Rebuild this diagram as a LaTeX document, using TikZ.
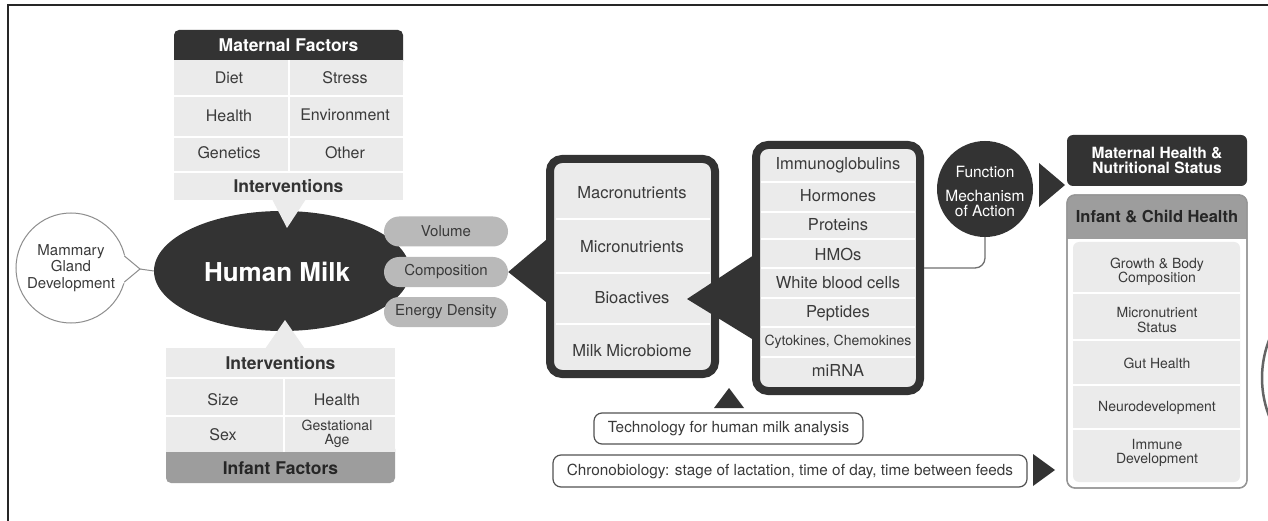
\documentclass[tikz,border=0pt]{standalone}
\usepackage{fontspec}
\setmainfont{TeX Gyre Heros}
\usetikzlibrary{shapes.geometric,calc}
\definecolor{ink}{HTML}{333333}
\definecolor{cellbg}{HTML}{EBEBEB}
\definecolor{pillbg}{HTML}{B9B9B9}
\definecolor{midgrey}{HTML}{9D9D9D}
\definecolor{txt}{HTML}{3A3A3A}
\definecolor{edge}{HTML}{707070}
\tikzset{
  cell/.style={text=txt, inner sep=0pt, font=\fontsize{16}{18}\selectfont},
  cellsm/.style={text=txt, inner sep=0pt, align=center, font=\fontsize{14}{14.5}\selectfont},
  boldhd/.style={text=#1, inner sep=0pt, font=\fontsize{17.5}{20}\selectfont\bfseries},
  pill/.style={fill=pillbg, rounded corners=15pt, minimum width=124pt, minimum height=30pt,
    inner sep=0pt, text=txt, font=\fontsize{15}{17}\selectfont},
  stack/.style={draw=ink, line width=8pt, fill=cellbg, rounded corners=12pt, inner sep=0pt},
  stacktext/.style={text=txt, inner sep=0pt, font=\fontsize{16.5}{19}\selectfont},
  sep/.style={white, line width=1.6pt},
  tag/.style={draw=ink!85, line width=1.2pt, rounded corners=8pt, fill=white, inner sep=0pt,
    text=txt, font=\fontsize{15.3}{17}\selectfont},
  wedge/.style={fill=ink},
}
\begin{document}
\begin{tikzpicture}[x=1pt,y=-1pt]
\useasboundingbox (0,0) rectangle (1268,521);
\fill[white] (0,0) rectangle (1268,521);
% outer frame
\draw[line width=2pt, black!85] (8,521) -- (8,5) -- (1268,5);

% ---------- central ellipse ----------
\node[ellipse, fill=ink, minimum width=256pt, minimum height=120pt, inner sep=0pt] (milk) at (282,271) {};
\node[text=white, inner sep=0pt, font=\fontsize{26}{30}\selectfont\bfseries] (milklbl) at (277,272) {Human Milk};

% ---------- maternal factors ----------
\fill[ink, rounded corners=5pt] (174,30) rectangle (403,66);
\fill[cellbg] (174,60) rectangle (403,200);
\draw[sep] (174,96) -- (403,96);
\draw[sep] (174,137) -- (403,137);
\draw[sep] (174,172) -- (403,172);
\draw[sep] (289,60) -- (289,172);
\fill[cellbg] (272,199) -- (306,199) -- (287,228) -- cycle;
\node[boldhd=white] (matf) at (288.5,45) {Maternal Factors};
\node[cell] (diet) at (229,78) {Diet};
\node[cell] (stress) at (345,78) {Stress};
\node[cell] (mhealth) at (229,116) {Health};
\node[cell] (env) at (345,115) {Environment};
\node[cell] (gen) at (229,153) {Genetics};
\node[cell] (other) at (345,153) {Other};
\node[boldhd=ink] (mint) at (288.5,186) {Interventions};

% ---------- infant factors ----------
\fill[midgrey, rounded corners=5pt] (166,444) rectangle (395,483);
\fill[cellbg] (166,348) rectangle (395,452);
\draw[sep] (166,378) -- (395,378);
\draw[sep] (166,416) -- (395,416);
\draw[sep] (284,378) -- (284,452);
\fill[cellbg] (265,349) -- (305,349) -- (285,320) -- cycle;
\node[boldhd=ink] (iint) at (280.5,363) {Interventions};
\node[cell] (size) at (223,400) {Size};
\node[cell] (ihealth) at (337,400) {Health};
\node[cell] (sex) at (223,435) {Sex};
\node[cellsm] (gest) at (337,434) {Gestational\\Age};
\node[boldhd={black!85}] (inff) at (280.5,468) {Infant Factors};

% ---------- mammary gland ----------
\node[circle, draw=edge!80, line width=1pt, minimum size=110pt, inner sep=0pt,
  align=center, text=txt, font=\fontsize{15}{16.5}\selectfont] (mam) at (71,268)
  {Mammary\\Gland\\Development};
\coordinate (mamtip) at (140,269);
\fill[white] (118,250) -- (mamtip) -- (118,288) -- cycle;
\draw[edge!80, line width=1pt] (124.4,256) -- (mamtip) -- (124.4,282);
\draw[edge!80, line width=1pt] (mamtip) -- (milk.west);

% ---------- pills ----------
\node[pill] (vol) at (446,231.5) {Volume};
\node[pill] (comp) at (446,272) {Composition};
\node[pill] (energy) at (446,312) {Energy Density};

% ---------- composition stack ----------
\node[stack, minimum width=165pt, minimum height=215pt] (comps) at (632.5,266.5) {};
\fill[wedge] (comp.east) -- (comps.west |- 0,240) -- (comps.west |- 0,302) -- cycle;
\draw[sep] (556,219) -- (710,219);
\draw[sep] (556,273) -- (710,273);
\draw[sep] (556,324) -- (710,324);
\node[stacktext] (macro) at (632,193) {Macronutrients};
\node[stacktext] (micro) at (632,247) {Micronutrients};
\node[stacktext] (bioact) at (632,298) {Bioactives};
\node[stacktext] (mbiome) at (632,351) {Milk Microbiome};

% ---------- bioactives stack ----------
\coordinate (bioapex) at (687,299);
\fill[wedge] (bioapex) -- (757,253) -- (757,342) -- cycle;
\node[stack, minimum width=164pt, minimum height=246pt] (bio) at (838,268) {};
\foreach \yy in {182,212,239,268,298,327,357}
  \draw[sep] (761,\yy) -- (915,\yy);
\node[stacktext] (igs) at (838,165) {Immunoglobulins};
\node[stacktext] (horm) at (838,196) {Hormones};
\node[stacktext] (prot) at (838,225) {Proteins};
\node[stacktext] (hmo) at (838,254) {HMOs};
\node[stacktext] (wbc) at (838,283) {White blood cells};
\node[stacktext] (pept) at (838,313) {Peptides};
\node[stacktext, font=\fontsize{14}{16}\selectfont] (cyto) at (838,342) {Cytokines, Chemokines};
\node[stacktext] (mirna) at (838,370) {miRNA};

% ---------- function circle ----------
\node[circle, fill=ink, minimum size=96pt, inner sep=0pt] (fun) at (985,189) {};
\node[text=white, inner sep=0pt, font=\fontsize{15.5}{15}\selectfont] (funA) at (985,172) {Function};
\node[text=white, inner sep=0pt, align=center, font=\fontsize{15.5}{15}\selectfont] (funB) at (985,203.5) {Mechanism\\of Action};
\draw[edge, line width=1.3pt, rounded corners=10pt] (bio.east) -| (fun.south);
\fill[wedge] (1039,163) -- (1065,185) -- (1039,207) -- cycle;

% ---------- outcomes ----------
\node[fill=ink, rounded corners=6pt, minimum width=180pt, minimum height=51pt, inner sep=0pt,
  align=center, text=white, font=\fontsize{15.5}{15}\selectfont\bfseries] (mhs) at (1157,160.5)
  {Maternal Health \&\\Nutritional Status};

\node[draw=edge!75, line width=1.3pt, fill=white, rounded corners=8pt,
  minimum width=180pt, minimum height=293pt, inner sep=0pt] (ich) at (1157,341.5) {};
\begin{scope}
  \clip[rounded corners=8pt] (1067,195) rectangle (1247,488);
  \fill[midgrey] (1067,195) rectangle (1247,239);
\end{scope}
\draw[edge!75, line width=1.3pt, rounded corners=8pt] (1067,195) rectangle (1247,488);
\fill[cellbg, rounded corners=6pt] (1073,242) rectangle (1240,482);
\foreach \yy in {293,340,385,429}
  \draw[sep] (1073,\yy) -- (1240,\yy);
\node[boldhd={black!85}, font=\fontsize{16.5}{19}\selectfont\bfseries] (ichh) at (1157,217) {Infant \& Child Health};
\node[cellsm] (growth) at (1157,272) {Growth \& Body\\Composition};
\node[cellsm] (mstat) at (1157,320) {Micronutrient\\Status};
\node[cellsm] (gut) at (1157,363) {Gut Health};
\node[cellsm] (neuro) at (1157,408) {Neurodevelopment};
\node[cellsm] (immune) at (1157,453) {Immune\\Development};

% ---------- context bars ----------
\node[tag, minimum width=269pt, minimum height=31pt] (tech) at (728.5,428.5)
  {Technology for human milk analysis};
\fill[wedge] (714,408) -- (729,388) -- (744,408) -- cycle;
\node[tag, minimum width=474pt, minimum height=32pt] (chrono) at (790,471)
  {Chronobiology: stage of lactation, time of day, time between feeds};
\fill[wedge] (1033,454) -- (1055,470) -- (1033,486) -- cycle;

% ---------- ring at the right margin ----------
\begin{scope}
  \clip (0,0) rectangle (1268,521);
  \draw[edge!90!black, line width=2.5pt] (1367,378) circle[radius=105];
\end{scope}
\end{tikzpicture}
\end{document}
